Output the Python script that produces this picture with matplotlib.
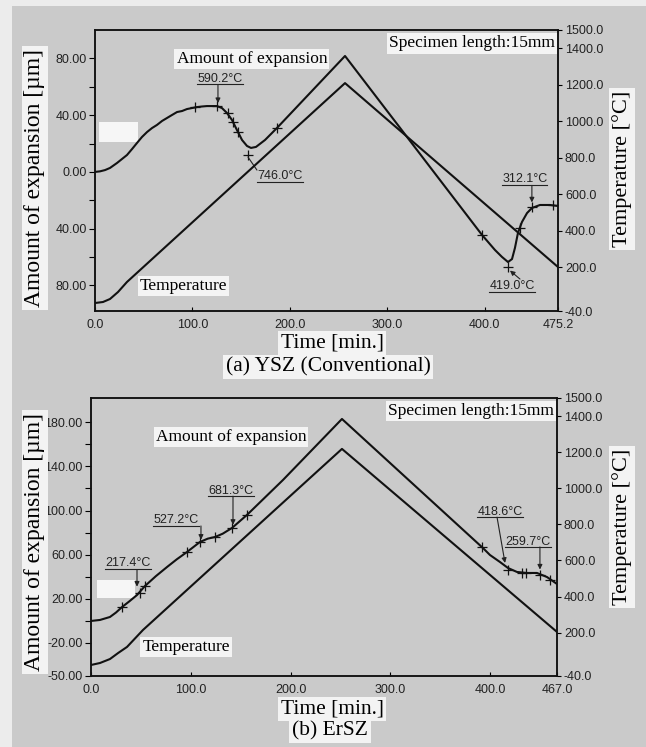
import matplotlib
matplotlib.use("Agg")
import matplotlib.pyplot as plt
from matplotlib.patches import Rectangle
from matplotlib.lines import Line2D

SERIF = "Liberation Serif"
SANS = "Liberation Sans"

# ---- (a) YSZ (Conventional) ----
a_exp_t = [0, 5.1, 10.3, 15.4, 22.6, 27.7, 32.8, 38.0, 43.1, 48.2, 53.4, 58.5, 63.6, 68.8,
           73.9, 79.0, 84.2, 89.3, 94.4, 99.5, 104.7, 109.8, 114.9, 120.0, 125.2,
           130.3, 135.5, 140.6, 145.7, 150.9, 156.0, 160.1, 165.2, 174.5, 186.8, 256.6,
           397.2, 410.5, 417.7, 423.9, 428.0, 431.0, 434.1, 438.2, 443.4, 448.5, 456.7,
           467.0, 475.2]
a_exp_v = [0, 0.4, 1.3, 2.8, 6.3, 9.1, 11.9, 16.1, 20.4, 24.6, 28.1, 30.9, 33.1, 35.9,
           38.0, 40.1, 42.2, 42.9, 44.3, 45.0, 45.7, 46.1, 46.4, 46.4, 46.4,
           45.0, 41.5, 36.6, 29.5, 22.5, 18.3, 16.9, 17.6, 22.5, 31.0, 81.7,
           -44.4, -55.0, -59.9, -63.5, -61.4, -53.6, -43.0, -35.3, -29.0, -25.4, -23.3,
           -23.3, -24.0]
a_temp_t = [0, 8.2, 15.4, 23.6, 32.8, 256.6, 475.2]
a_temp_T = [3.8, 9.3, 25.8, 64, 119, 1209, 201]
a_mark_t = [102.6, 125.2, 136.5, 141.6, 146.8, 157.0, 186.8, 397.2, 423.9, 436.1, 448.5, 470.0]
a_mark_v = [45.7, 46.4, 41.5, 35.2, 28.1, 11.9, 31.0, -44.4, -67.0, -39.5, -24.7, -23.3]
a_notes = ["590.2°C", "746.0°C", "312.1°C", "419.0°C"]
a_note_xy = [(128.3, 65.5), (189.8, -2.9), (441.2, -5.0), (427.9, -80.4)]
a_note_from = [(126.2, 61.5), (157.0, 10.5), (448.4, -9.5), (436.2, -75.5)]
a_note_to = [(126.2, 48.5), (166.2, 1.3), (448.4, -21.5), (425.9, -69.5)]
a_note_head = [True, False, True, True]
a_xticks = [0, 100, 200, 300, 400, 475.2]
a_xlabels = ["0.0", "100.0", "200.0", "300.0", "400.0", "475.2"]
a_yticks = [-80, -40, 0, 40, 80]
a_ylabels = ["80.00", "40.00", "0.00", "40.00", "80.00"]
a_yminor = [-60, -20, 20, 60]

# ---- (b) ErSZ ----
b_exp_t = [0, 9.0, 19.0, 25.0, 31.1, 38.6, 46.1, 54.1, 65.0, 76.2, 86.0, 96.2, 109.2, 117.0,
           124.3, 132.0, 141.3, 156.3, 192.4, 251.5, 392.8, 399.8, 409.9, 417.9, 426.9,
           436.9, 446.9, 457.0, 467.0]
b_exp_v = [-0.1, 0.8, 3.5, 7.5, 12.5, 17.8, 23.4, 31.6, 40.5, 48.8, 55.8, 62.4, 71.5, 74.5,
           76.0, 79.0, 84.2, 96.0, 127.7, 183.0, 66.0, 59.7, 53.3, 47.9, 44.3,
           43.4, 43.4, 39.7, 33.4]
b_temp_t = [0, 9.0, 19.0, 27.1, 36.1, 52.1, 251.5, 467.0]
b_temp_T = [21, 32, 54, 87, 121, 215, 1218, 204]
b_mark_t = [31.1, 49.1, 54.1, 96.2, 109.2, 124.3, 141.3, 156.3, 391.8, 417.9, 431.9, 435.9, 450.0, 460.0]
b_mark_v = [12.5, 25.2, 31.6, 62.4, 71.5, 76.0, 84.2, 96.0, 66.9, 46.1, 43.4, 43.4, 41.6, 37.0]
b_notes = ["217.4°C", "527.2°C", "681.3°C", "418.6°C", "259.7°C"]
b_note_xy = [(37.1, 52.4), (85.2, 91.4), (140.3, 117.7), (409.9, 98.7), (437.9, 71.5)]
b_note_from = [(46.1, 46.5), (110.2, 86.0), (142.3, 113.0), (406.9, 94.0), (449.9, 67.0)]
b_note_to = [(46.1, 31.0), (110.2, 73.5), (142.3, 87.0), (414.9, 52.5), (449.9, 46.5)]
b_note_head = [True, True, True, True, True]
b_xticks = [0, 100, 200, 300, 400, 467]
b_xlabels = ["0.0", "100.0", "200.0", "300.0", "400.0", "467.0"]
b_yticks = [-50, -20, 20, 60, 100, 140, 180]
b_ylabels = ["-50.00", "-20.00", "20.00", "60.00", "100.00", "140.00", "180.00"]
b_yminor = [0, 40, 80, 120, 160]

temp_ticks = [-40, 200, 400, 600, 800, 1000, 1200, 1400, 1500]
temp_labels = ["-40.0", "200.0", "400.0", "600.0", "800.0", "1000.0", "1200.0", "1400.0", "1500.0"]

W, H = 646, 747
fig = plt.figure(figsize=(W / 100, H / 100), dpi=100)
fig.patch.set_facecolor("#ececec")
fig.add_artist(Rectangle((12 / W, 0), 1, 1 - 6 / H, transform=fig.transFigure,
                         facecolor="#cacaca", edgecolor="none", zorder=-10))

LBOX = dict(facecolor="#f3f3f3", edgecolor="none", pad=2)
WBOX = dict(facecolor="#f4f4f4", edgecolor="none", pad=1.5)
underlined = []


def panel(rect, xmax, ylim, exp_t, exp_v, temp_t, temp_T, mark_t, mark_v,
          notes, note_xy, note_from, note_to, note_head,
          xticks, xlabels, yticks, ylabels, yminor,
          exp_xy, temp_xy, mask):
    ax = fig.add_axes(rect)
    ax.set_facecolor("none")
    ax2 = ax.twinx()
    ax2.set_facecolor("none")
    ax.set_xlim(0, xmax)
    ax.set_ylim(*ylim)
    ax2.set_ylim(-40, 1500)

    ax.plot(exp_t, exp_v, color="#111111", lw=1.5, zorder=3)
    ax2.plot(temp_t, temp_T, color="#111111", lw=1.5, zorder=3)
    ax.plot(mark_t, mark_v, "+", color="#111111", ms=7, mew=0.9, zorder=4)

    for lab, xy, p0, p1, head in zip(notes, note_xy, note_from, note_to, note_head):
        t = ax.text(xy[0], xy[1], lab, fontsize=9, family=SANS, ha="center", va="center",
                    color="#222222", zorder=5)
        underlined.append(t)
        ax.annotate("", xy=p1, xytext=p0,
                    arrowprops=dict(arrowstyle="-|>" if head else "-", lw=0.8,
                                    color="#222222", mutation_scale=7,
                                    shrinkA=0, shrinkB=0), zorder=5)

    ax.text(exp_xy[0], exp_xy[1], "Amount of expansion", fontsize=12.5, family=SERIF,
            ha="center", va="center", bbox=WBOX, zorder=6)
    ax.text(temp_xy[0], temp_xy[1], "Temperature", fontsize=12.5, family=SERIF,
            ha="center", va="center", bbox=WBOX, zorder=6)
    ax.text(0.993, 0.952, "Specimen length:15mm", fontsize=12.5, family=SERIF,
            ha="right", va="center", transform=ax.transAxes, bbox=WBOX, zorder=6)
    ax.add_patch(Rectangle((mask[0], mask[1]), mask[2], mask[3], transform=ax.transAxes,
                           facecolor="#f6f6f6", edgecolor="none", zorder=2,
                           clip_on=False))

    ax.set_xticks(xticks)
    ax.set_xticklabels(xlabels)
    ax.set_yticks(yticks)
    ax.set_yticklabels(ylabels)
    ax.set_yticks(yminor, minor=True)
    ax2.set_yticks(temp_ticks)
    ax2.set_yticklabels(temp_labels)
    ax.tick_params(axis="x", direction="in", length=3, width=0.8, labelsize=9, pad=6)
    ax.tick_params(axis="y", which="both", direction="out", length=4, width=0.8,
                   labelsize=9, pad=2)
    ax2.tick_params(axis="y", direction="out", length=3, width=0.8, labelsize=9, pad=2)
    for a in (ax, ax2):
        for lbl in a.get_xticklabels() + a.get_yticklabels():
            lbl.set_family(SANS)
            lbl.set_color("#222222")
        for s in a.spines.values():
            s.set_linewidth(1.1)
            s.set_color("#111111")
    return ax


# pixel rectangles: left, right, top, bottom
def frac(l, r, t, b):
    return [l / W, 1 - b / H, (r - l) / W, (b - t) / H]


panel(frac(95, 558, 30, 311), 475.2, (-98, 100), a_exp_t, a_exp_v, a_temp_t, a_temp_T,
      a_mark_t, a_mark_v, a_notes, a_note_xy, a_note_from, a_note_to, a_note_head,
      a_xticks, a_xlabels, a_yticks, a_ylabels, a_yminor,
      (161, 79.6), (91, -80.4), (0.008, 0.601, 0.085, 0.072))
panel(frac(91, 557, 398, 676), 467, (-50, 202), b_exp_t, b_exp_v, b_temp_t, b_temp_T,
      b_mark_t, b_mark_v, b_notes, b_note_xy, b_note_from, b_note_to, b_note_head,
      b_xticks, b_xlabels, b_yticks, b_ylabels, b_yminor,
      (140.3, 166.7), (95.2, -23.7), (0.013, 0.281, 0.081, 0.064))

# axis titles and captions
for yc in (178, 542):
    fig.text(35 / W, 1 - yc / H, "Amount of expansion [µm]", rotation=90, fontsize=17,
             family=SERIF, ha="center", va="center", bbox=LBOX)
for yc in (169, 527):
    fig.text(622 / W, 1 - yc / H, "Temperature [°C]", rotation=90, fontsize=16,
             family=SERIF, ha="center", va="center", bbox=LBOX)
fig.text(332 / W, 1 - 343 / H, "Time [min.]", fontsize=15.5, family=SERIF,
         ha="center", va="center", bbox=LBOX)
fig.text(328 / W, 1 - 367 / H, "(a) YSZ (Conventional)", fontsize=15.5, family=SERIF,
         ha="center", va="center", bbox=LBOX)
fig.text(332 / W, 1 - 709 / H, "Time [min.]", fontsize=15.5, family=SERIF,
         ha="center", va="center", bbox=LBOX)
fig.text(330 / W, 1 - 731 / H, "(b) ErSZ", fontsize=15.5, family=SERIF,
         ha="center", va="center", bbox=LBOX)

# underline the temperature notes
fig.canvas.draw()
inv = fig.transFigure.inverted()
for t in underlined:
    bb = t.get_window_extent()
    (x0, y0), (x1, _) = inv.transform([(bb.x0, bb.y0 + 0.5), (bb.x1, bb.y0 + 0.5)])
    fig.add_artist(Line2D([x0, x1], [y0, y0], transform=fig.transFigure,
                          color="#222222", lw=0.8, zorder=6))

fig.savefig("out.png", dpi=100, facecolor=fig.get_facecolor())
